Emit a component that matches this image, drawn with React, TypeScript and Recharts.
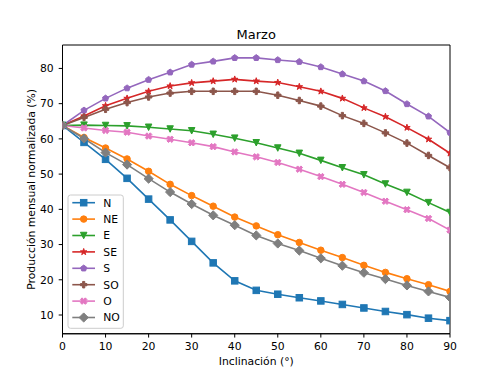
import React from 'react';
import { LineChart, Line, XAxis, YAxis, Legend, ReferenceArea } from 'recharts';

const angles = [0, 5, 10, 15, 20, 25, 30, 35, 40, 45, 50, 55, 60, 65, 70, 75, 80, 85, 90];
const valuesN = [63.8, 59.0, 54.2, 48.8, 42.9, 37.0, 30.9, 24.8, 19.7, 17.0, 15.9, 14.9, 14.0, 13.0, 12.0, 11.0, 10.1, 9.1, 8.4];
const valuesNE = [63.8, 60.4, 57.4, 54.3, 50.8, 47.1, 43.9, 40.9, 37.8, 35.3, 32.8, 30.6, 28.4, 26.3, 24.1, 22.1, 20.3, 18.6, 16.7];
const valuesE = [63.8, 63.9, 63.8, 63.7, 63.3, 62.8, 62.3, 61.3, 60.2, 58.9, 57.4, 55.9, 53.9, 51.8, 49.8, 47.2, 44.8, 41.9, 39.1];
const valuesSE = [63.8, 66.5, 69.4, 71.5, 73.5, 75.0, 75.9, 76.4, 76.9, 76.4, 76.0, 74.8, 73.5, 71.5, 68.8, 66.3, 63.2, 59.9, 55.9];
const valuesS = [63.8, 68.1, 71.5, 74.4, 76.8, 78.9, 81.1, 82.0, 83.0, 83.0, 82.4, 81.9, 80.4, 78.4, 76.4, 73.6, 69.9, 66.4, 61.8];
const valuesSO = [63.8, 66.1, 68.4, 70.3, 71.9, 73.0, 73.5, 73.5, 73.5, 73.5, 72.4, 70.9, 69.3, 66.6, 64.4, 61.7, 58.8, 55.3, 51.8];
const valuesO = [63.8, 63.1, 62.4, 61.9, 60.8, 59.9, 58.9, 57.8, 56.3, 54.9, 53.3, 51.4, 49.3, 47.1, 44.8, 42.3, 39.9, 37.4, 34.1];
const valuesNO = [63.8, 60.1, 56.1, 52.7, 48.7, 44.9, 41.5, 38.3, 35.5, 32.6, 30.3, 28.3, 26.1, 24.0, 22.0, 20.2, 18.4, 16.7, 15.0];

const seriesNames = ['N', 'NE', 'E', 'SE', 'S', 'SO', 'O', 'NO'];
const seriesValues = [valuesN, valuesNE, valuesE, valuesSE, valuesS, valuesSO, valuesO, valuesNO];
const colors = ['#1f77b4', '#ff7f0e', '#2ca02c', '#d62728', '#9467bd', '#8c564b', '#e377c2', '#7f7f7f'];
const shapes = ['square', 'circle', 'triangleDown', 'star', 'pentagon', 'plus', 'x', 'diamond'];
const xTicks = [0, 10, 20, 30, 40, 50, 60, 70, 80, 90];
const yTicks = [10, 20, 30, 40, 50, 60, 70, 80];
const xDomain = [0, 90];
const yDomain = [4.68, 86.65];

const title = 'Marzo';
const xLabel = 'Inclinación (°)';
const yLabel = 'Producción mensual normalizada (%)';

const data = angles.map((a, i) => {
  const row: Record<string, number> = { x: a };
  seriesNames.forEach((n, k) => {
    row[n] = seriesValues[k][i];
  });
  return row;
});

const FONT = 'DejaVu Sans, sans-serif';
const SIZE = 6.5;

function poly(pts: number[][], cx: number, cy: number) {
  return pts.map((p) => `${(cx + p[0]).toFixed(2)},${(cy + p[1]).toFixed(2)}`).join(' ');
}

function MarkerShape({ shape, cx, cy, color }: { shape: string; cx: number; cy: number; color: string }) {
  const common = { fill: color, stroke: color, strokeWidth: 1 };
  const h = SIZE / 2;
  if (cx == null || cy == null || isNaN(cx) || isNaN(cy)) return null;
  switch (shape) {
    case 'square':
      return <rect x={cx - h} y={cy - h} width={SIZE} height={SIZE} {...common} />;
    case 'circle':
      return <circle cx={cx} cy={cy} r={h} {...common} />;
    case 'triangleDown':
      return <polygon points={poly([[0, h], [-h, -h], [h, -h]], cx, cy)} {...common} />;
    case 'star': {
      const pts: number[][] = [];
      for (let i = 0; i < 10; i++) {
        const ang = ((-90 + i * 36) * Math.PI) / 180;
        const r = i % 2 === 0 ? h * 1.05 : h * 1.05 * 0.382;
        pts.push([r * Math.cos(ang), r * Math.sin(ang)]);
      }
      return <polygon points={poly(pts, cx, cy)} {...common} />;
    }
    case 'pentagon': {
      const pts: number[][] = [];
      for (let i = 0; i < 5; i++) {
        const ang = ((-90 + i * 72) * Math.PI) / 180;
        pts.push([h * Math.cos(ang), h * Math.sin(ang)]);
      }
      return <polygon points={poly(pts, cx, cy)} {...common} />;
    }
    case 'plus': {
      const u = SIZE / 6;
      const raw = [[-1, -3], [-1, -1], [-3, -1], [-3, 1], [-1, 1], [-1, 3], [1, 3], [1, 1], [3, 1], [3, -1], [1, -1], [1, -3]];
      return <polygon points={poly(raw.map((p) => [p[0] * u, p[1] * u]), cx, cy)} {...common} />;
    }
    case 'x': {
      const u = SIZE / 4;
      const raw = [[-1, -2], [0, -1], [1, -2], [2, -1], [1, 0], [2, 1], [1, 2], [0, 1], [-1, 2], [-2, 1], [-1, 0], [-2, -1]];
      return <polygon points={poly(raw.map((p) => [p[0] * u, p[1] * u]), cx, cy)} {...common} />;
    }
    case 'diamond': {
      const d = SIZE * 0.7071;
      return <polygon points={poly([[0, -d], [d, 0], [0, d], [-d, 0]], cx, cy)} {...common} />;
    }
    default:
      return null;
  }
}

function makeDot(shape: string, color: string, name: string) {
  return (props: any) => (
    <MarkerShape key={`${name}-${props.index}`} shape={shape} cx={props.cx} cy={props.cy} color={color} />
  );
}

function LegendBox() {
  const rowH = 16.4;
  return (
    <svg width={62} height={140} style={{ display: 'block' }}>
      <rect x={2} y={2} width={55.3} height={133.3} rx={2.5} ry={2.5} fill="rgba(255,255,255,0.8)" stroke="#cccccc" strokeWidth={1} />
      {seriesNames.map((n, i) => {
        const cy = 9.7 + rowH * i;
        return (
          <g key={n}>
            <line x1={6.3} x2={29} y1={cy} y2={cy} stroke={colors[i]} strokeWidth={1.6} />
            <MarkerShape shape={shapes[i]} cx={17.7} cy={cy} color={colors[i]} />
            <text x={37.3} y={cy} dy="0.36em" fontSize={10.8} fontFamily={FONT} fill="#000">
              {n}
            </text>
          </g>
        );
      })}
    </svg>
  );
}

export default function App() {
  const tickStyle = { fontSize: 10.8, fontFamily: FONT, fill: '#000' };
  return (
    <div style={{ position: 'absolute', left: 0, top: 0, width: 500, height: 375, background: '#fff' }}>
      <LineChart width={500} height={375} data={data} margin={{ top: 45, right: 50, bottom: 0, left: 0 }}>
        <XAxis
          dataKey="x"
          type="number"
          domain={xDomain}
          ticks={xTicks}
          height={41.25}
          tick={tickStyle}
          tickSize={3.8}
          tickMargin={4.7}
          stroke="#000"
          axisLine={{ stroke: '#000', strokeWidth: 1 }}
          tickLine={{ stroke: '#000', strokeWidth: 1 }}
          allowDataOverflow
          label={{ value: xLabel, position: 'center', dy: 7, style: { fontSize: 10.8, fontFamily: FONT, fill: '#000' } }}
        />
        <YAxis
          type="number"
          domain={yDomain}
          ticks={yTicks}
          width={62.5}
          tick={tickStyle}
          tickSize={3.8}
          tickMargin={5}
          allowDataOverflow
          axisLine={{ stroke: '#000', strokeWidth: 1 }}
          tickLine={{ stroke: '#000', strokeWidth: 1 }}
          label={{ value: yLabel, angle: -90, position: 'center', style: { fontSize: 10.8, fontFamily: FONT, fill: '#000', textAnchor: 'middle' } }}
        />
        <ReferenceArea
          x1={xDomain[0]}
          x2={xDomain[1]}
          y1={yDomain[0]}
          y2={yDomain[1]}
          fill="none"
          fillOpacity={0}
          stroke="#000"
          strokeWidth={1}
          ifOverflow="visible"
          label={{ value: title, position: 'top', offset: 6.5, style: { fontSize: 13, fontFamily: FONT, fill: '#000' } }}
        />
        {seriesNames.map((n, i) => (
          <Line
            key={n}
            dataKey={n}
            name={n}
            type="linear"
            stroke={colors[i]}
            strokeWidth={1.6}
            dot={makeDot(shapes[i], colors[i], n)}
            activeDot={false}
            isAnimationActive={false}
          />
        ))}
        <Legend
          layout="vertical"
          align="center"
          verticalAlign="middle"
          content={() => <LegendBox />}
          wrapperStyle={{ position: 'absolute', left: 66, top: 193, width: 62, height: 140 }}
        />
      </LineChart>
    </div>
  );
}
